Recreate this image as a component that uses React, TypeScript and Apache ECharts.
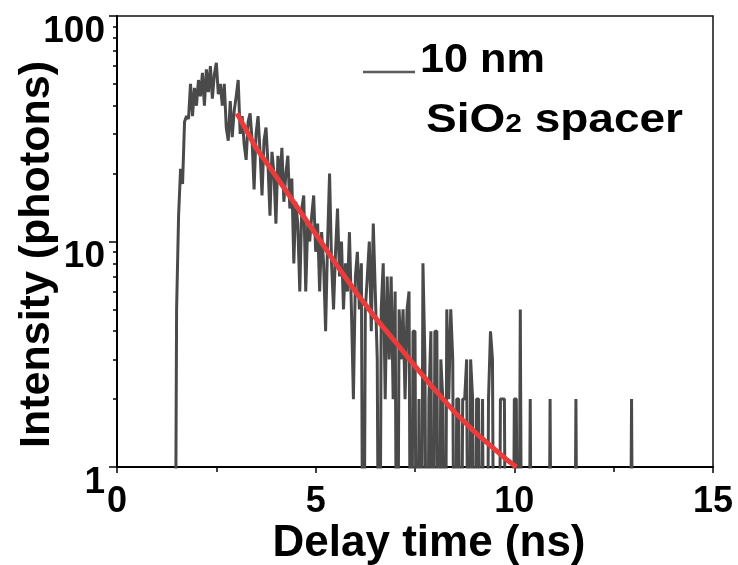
import React, { useEffect, useRef } from "react";
import * as echarts from "echarts";

// Photon counts per 0.05 ns channel, first channel at 1.40 ns
const channelStart = 1.4;
const channelWidth = 0.05;
const counts = [
  0, 0, 5, 13, 21, 18, 34, 36, 35, 50,
  36, 48, 40, 52, 44, 56, 40, 58, 46, 60,
  43, 55, 62, 45, 50, 40, 50, 32, 28, 42,
  29, 38, 44, 52, 30, 36, 27, 23, 34, 37,
  28, 17, 30, 36, 25, 16, 28, 32, 22, 13,
  25, 20, 12, 24, 18, 26, 15, 20, 24, 14,
  19, 8, 15, 12, 6, 14, 16, 6, 12, 10,
  13, 16, 9, 12, 6, 11, 8, 4, 10, 20,
  8, 5, 9, 14, 7, 10, 5, 8, 6, 11,
  5, 2, 7, 9, 5, 8, 0, 5, 7, 10,
  4, 12, 6, 3, 0, 5, 8, 2, 7, 3,
  7, 2, 6, 0, 5, 3, 5, 2, 5, 6,
  0, 4, 4, 0, 2, 0, 8, 3, 0, 2,
  4, 0, 4, 4, 0, 3, 2, 0, 5, 2,
  5, 3, 0, 2, 2, 0, 2, 2, 3, 0,
  3, 2, 0, 2, 2, 0, 2, 0, 0, 2,
  4, 3, 0, 0, 0, 2, 2, 2, 0, 0,
  0, 0, 2, 2, 0, 5, 0, 0, 0, 0,
  2, 0, 0, 0, 0, 0, 0, 0, 0, 0,
  2, 0, 0, 0, 0, 0, 0, 0, 0, 0,
  0, 0, 0, 2, 0, 0, 0, 0, 0, 0,
  0, 0, 0, 0, 0, 0, 0, 0, 0, 0,
  0, 0, 0, 0, 0, 0, 0, 0, 0, 0,
  0, 2, 0, 0, 0, 0, 0, 0, 0, 0,
  0, 0, 0, 0, 0, 0, 0, 0, 0, 0,
  0, 0, 0, 0, 0, 0, 0, 0, 0, 0,
  0, 0, 0, 0, 0, 0, 0, 0, 0, 0,
  0, 0, 0,
];

// Exponential fit (red)
const fitTimes = [3.02, 3.5, 4.0, 4.5, 5.0, 5.5, 6.0, 6.5, 7.0, 7.5, 8.0, 8.5, 9.0, 9.5, 9.8, 10.05];
const fitValues = [37, 26, 19.5, 14.5, 10.8, 8.0, 6.0, 4.6, 3.6, 2.8, 2.2, 1.75, 1.43, 1.2, 1.08, 1.0];

const yMinorTicks = [2, 3, 4, 5, 6, 7, 8, 9, 20, 30, 40, 50, 60, 70, 80, 90];
const seriesName = "10 nm";
const FONT = "Liberation Sans";

export default function App() {
  const ref = useRef<HTMLDivElement>(null);
  useEffect(() => {
    const chart = echarts.init(ref.current!, null, { renderer: "svg" });
    // zero counts cannot sit on a log axis: draw them below the axis minimum (clipped)
    const decay = counts.map((c, i) => [
      +(channelStart + i * channelWidth).toFixed(2),
      c === 0 ? 0.05 : c,
    ]);
    const fit = fitTimes.map((t, i) => [t, fitValues[i]]);
    const labelStyle = { fontSize: 37, fontWeight: "bold", fontFamily: FONT, color: "#000" };
    chart.setOption({
      animation: false,
      grid: {
        left: 117,
        right: 25,
        top: 16,
        bottom: 98,
        containLabel: false,
        outerBoundsMode: "none",
        show: true,
        borderColor: "#111",
        borderWidth: 1.5,
        backgroundColor: "transparent",
      },
      xAxis: {
        type: "value",
        min: 0,
        max: 15,
        interval: 5,
        axisLine: { show: true, onZero: false, lineStyle: { color: "#000", width: 2 } },
        axisTick: { show: true, length: 6, lineStyle: { color: "#000", width: 1.5 } },
        minorTick: { show: true, splitNumber: 2, length: 5, lineStyle: { color: "#000", width: 1.5 } },
        splitLine: { show: false },
        axisLabel: { ...labelStyle, fontSize: 36, margin: 14 },
        name: "Delay time (ns)",
        nameLocation: "middle",
        nameGap: 51,
        nameMoveOverlap: false,
        nameTextStyle: {
          fontSize: 44,
          fontWeight: "bold",
          fontFamily: FONT,
          color: "#000",
          padding: [0, 0, 0, 28],
        },
      },
      yAxis: [
        {
          type: "log",
          logBase: 10,
          min: 1,
          max: 100,
          position: "left",
          axisLine: { show: true, lineStyle: { color: "#000", width: 2 } },
          axisTick: { show: true, length: 8, lineStyle: { color: "#000", width: 1.5 } },
          splitLine: { show: false },
          axisLabel: {
            ...labelStyle,
            margin: 12,
            formatter: (v: number) => "{n|" + v + "}",
            rich: {
              n: { ...labelStyle, padding: [26, 0, 0, 0] },
            },
          },
          name: "Intensity (photons)",
          nameLocation: "middle",
          nameGap: 62,
          nameMoveOverlap: false,
          nameTextStyle: {
            fontSize: 43,
            fontWeight: "bold",
            fontFamily: FONT,
            color: "#000",
            padding: [0, 26, 0, 0],
          },
        },
        {
          type: "log",
          logBase: 10,
          min: 1,
          max: 100,
          position: "left",
          axisLine: { show: false },
          axisTick: { show: true, length: 4, customValues: yMinorTicks, lineStyle: { color: "#000", width: 1.5 } },
          axisLabel: { show: false },
          splitLine: { show: false },
        },
      ],
      series: [
        {
          name: seriesName,
          type: "line",
          data: decay,
          yAxisIndex: 0,
          showSymbol: false,
          symbol: "none",
          clip: true,
          lineStyle: { color: "#4a4a4a", width: 3 },
          z: 2,
        },
        {
          name: "fit",
          type: "line",
          data: fit,
          yAxisIndex: 0,
          showSymbol: false,
          symbol: "none",
          clip: true,
          lineStyle: { color: "#ec3b3b", width: 5 },
          z: 3,
        },
      ],
      graphic: [
        {
          type: "line",
          shape: { x1: 363, y1: 72, x2: 415, y2: 72 },
          style: { stroke: "#5a5a5a", lineWidth: 2.5 },
        },
        {
          type: "text",
          x: 420,
          y: 58,
          scaleX: 1.08,
          style: {
            text: seriesName,
            fontSize: 40,
            fontWeight: "bold",
            fontFamily: FONT,
            fill: "#000",
            verticalAlign: "middle",
          },
        },
        {
          type: "text",
          x: 426,
          y: 118,
          scaleX: 1.15,
          style: {
            text: "{a|SiO}{s|2}{a| spacer}",
            verticalAlign: "middle",
            rich: {
              a: { fontSize: 40, fontWeight: "bold", fontFamily: FONT, fill: "#000" },
              s: { fontSize: 26, fontWeight: "bold", fontFamily: FONT, fill: "#000", padding: [10, 0, 0, 0] },
            },
          },
        },
      ],
    });
    return () => chart.dispose();
  }, []);
  return <div ref={ref} style={{ position: "fixed", left: 0, top: 0, width: 738, height: 565 }} />;
}
